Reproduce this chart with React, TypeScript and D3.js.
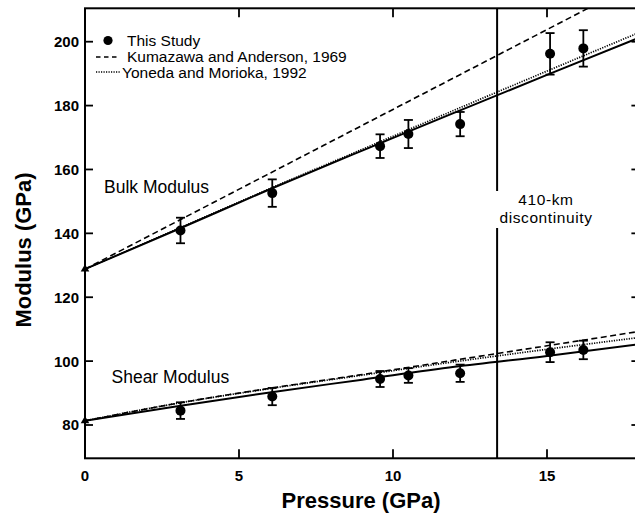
import React from "react";
import * as d3 from "d3";

// ---- data ----
const pressure = [3.1, 6.08, 9.58, 10.5, 12.18, 15.1, 16.18];
const bulkModulus = [140.9, 152.6, 167.3, 171.1, 174.2, 196.2, 197.9];
const bulkError = [4.0, 4.3, 3.7, 4.4, 3.8, 6.5, 5.7];
const shearModulus = [84.5, 88.9, 94.4, 95.5, 96.2, 102.8, 103.5];
const shearError = [2.6, 2.7, 2.5, 2.3, 2.7, 3.1, 2.9];

const fitPressure = [0, 3, 6, 9, 12, 15, 18];
const bulkThisStudy = [128.8, 141.2, 153.8, 165.9, 177.8, 189.6, 201.3];
const bulkYoneda = [128.8, 141.4, 154.0, 166.3, 178.6, 190.8, 202.9];
const bulkKumazawa = [128.8, 143.8, 158.8, 173.8, 188.8, 203.8, 218.8];
const shearThisStudy = [81.3, 85.9, 90.2, 94.2, 98.2, 101.6, 105.3];
const shearYoneda = [81.3, 86.8, 91.4, 95.6, 99.8, 103.7, 107.4];
const shearKumazawa = [81.3, 86.8, 91.5, 95.8, 100.3, 104.8, 109.3];

const zeroPressureValues = [128.8, 81.3];

const xTicks = [0, 5, 10, 15];
const yTicks = [80, 100, 120, 140, 160, 180, 200];
const discontinuityPressure = 13.38;

const legendLabels = ["This Study", "Kumazawa and Anderson, 1969", "Yoneda and Morioka, 1992"];

const FONT = "'Liberation Sans', Arial, Helvetica, sans-serif";

export default function App() {
  const W = 635;
  const H = 517;
  const left = 85;
  const top = 8.3;
  const bottom = 458.3;
  const x = d3.scaleLinear().domain([0, 18]).range([left, left + 30.8 * 18]);
  const y = d3.scaleLinear().domain([80, 200]).range([425, 41.7]);
  const right = x(18);

  const line = d3
    .line<[number, number]>()
    .x((d) => x(d[0]))
    .y((d) => y(d[1]))
    .curve(d3.curveMonotoneX);
  const mk = (vals: number[]) => line(fitPressure.map((p, i) => [p, vals[i]] as [number, number])) || "";

  const dash = "6,3.5";
  const dot = "1.2,1.3";

  const tri = d3.symbol().type(d3.symbolTriangle).size(32)() || "";

  const points = [
    ...pressure.map((p, i) => ({ p, v: bulkModulus[i], e: bulkError[i] })),
    ...pressure.map((p, i) => ({ p, v: shearModulus[i], e: shearError[i] })),
  ];

  const xd = x(discontinuityPressure);

  return (
    <div style={{ position: "absolute", left: 0, top: 0 }}>
      <svg width={W} height={H} style={{ display: "block", background: "#fff" }} fontFamily={FONT}>
        <defs>
          <clipPath id="plot">
            <rect x={left} y={top} width={right - left} height={bottom - top} />
          </clipPath>
        </defs>

        {/* fit lines */}
        <g clipPath="url(#plot)" fill="none" stroke="#000">
          <path d={mk(bulkKumazawa)} strokeWidth={1.6} strokeDasharray={dash} />
          <path d={mk(bulkYoneda)} strokeWidth={1.7} strokeDasharray={dot} />
          <path d={mk(bulkThisStudy)} strokeWidth={2} />
          <path d={mk(shearKumazawa)} strokeWidth={1.6} strokeDasharray={dash} />
          <path d={mk(shearYoneda)} strokeWidth={1.7} strokeDasharray={dot} />
          <path d={mk(shearThisStudy)} strokeWidth={2} />
        </g>

        {/* data points with error bars */}
        <g stroke="#000" fill="#000">
          {points.map((d, i) => (
            <g key={i}>
              <line x1={x(d.p)} x2={x(d.p)} y1={y(d.v - d.e)} y2={y(d.v + d.e)} strokeWidth={1.8} />
              <line x1={x(d.p) - 4.5} x2={x(d.p) + 4.5} y1={y(d.v - d.e)} y2={y(d.v - d.e)} strokeWidth={1.8} />
              <line x1={x(d.p) - 4.5} x2={x(d.p) + 4.5} y1={y(d.v + d.e)} y2={y(d.v + d.e)} strokeWidth={1.8} />
              <circle cx={x(d.p)} cy={y(d.v)} r={5} stroke="none" />
            </g>
          ))}
        </g>

        {/* zero-pressure triangles */}
        {zeroPressureValues.map((v, i) => (
          <path key={i} d={tri} transform={`translate(${x(0)},${y(v)})`} fill="#000" />
        ))}

        {/* discontinuity */}
        <line x1={xd} x2={xd} y1={top} y2={191} stroke="#000" strokeWidth={2} />
        <line x1={xd} x2={xd} y1={228} y2={bottom} stroke="#000" strokeWidth={2} />
        <text x={546} y={205} fontSize={15.5} letterSpacing={0.6} textAnchor="middle">410-km</text>
        <text x={546} y={222.5} fontSize={15.5} letterSpacing={0.6} textAnchor="middle">discontinuity</text>

        {/* frame */}
        <rect x={left} y={top} width={right - left} height={bottom - top} fill="none" stroke="#000" strokeWidth={2} />

        {/* ticks */}
        <g stroke="#000" strokeWidth={1.8}>
          {yTicks.map((t) => (
            <g key={t}>
              <line x1={left} x2={left + 8} y1={y(t)} y2={y(t)} />
              <line x1={right - 8} x2={right} y1={y(t)} y2={y(t)} />
            </g>
          ))}
          {xTicks.map((t) => (
            <g key={t}>
              <line x1={x(t)} x2={x(t)} y1={bottom} y2={bottom - 9} />
              <line x1={x(t)} x2={x(t)} y1={top} y2={top + 9} />
            </g>
          ))}
        </g>
        <g fontSize={15} fontWeight="bold">
          {yTicks.map((t) => (
            <text key={t} x={79} y={y(t)} dy="0.36em" textAnchor="end">
              {t}
            </text>
          ))}
          {xTicks.map((t) => (
            <text key={t} x={x(t)} y={481} textAnchor="middle">
              {t}
            </text>
          ))}
        </g>

        {/* curve labels */}
        <text x={104} y={193} fontSize={17.5}>Bulk Modulus</text>
        <text x={111.5} y={383} fontSize={17.5}>Shear Modulus</text>

        {/* legend */}
        <circle cx={108} cy={40.5} r={4.6} fill="#000" />
        <text x={127} y={46} fontSize={15.5}>{legendLabels[0]}</text>
        <line x1={96} x2={118} y1={57} y2={57} stroke="#000" strokeWidth={1.6} strokeDasharray="4.5,3.5" />
        <text x={127} y={62} fontSize={15.5}>{legendLabels[1]}</text>
        <line x1={96} x2={121} y1={72} y2={72} stroke="#000" strokeWidth={1.7} strokeDasharray={dot} />
        <text x={122} y={77.5} fontSize={15.5}>{legendLabels[2]}</text>

        {/* axis titles */}
        <text x={361} y={508} fontSize={22} fontWeight="bold" textAnchor="middle">Pressure (GPa)</text>
        <text transform="translate(31,250) rotate(-90)" fontSize={22} fontWeight="bold" textAnchor="middle">
          Modulus (GPa)
        </text>
      </svg>
    </div>
  );
}
